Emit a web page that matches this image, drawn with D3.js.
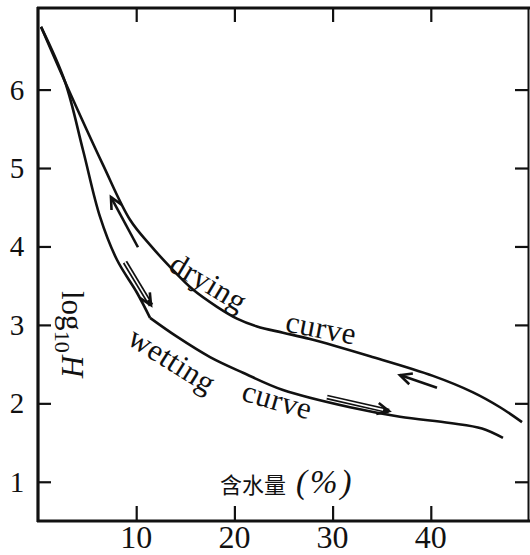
<!DOCTYPE html>
<html>
<head>
<meta charset="utf-8">
<script src="https://cdn.jsdelivr.net/npm/d3@7"></script>
<style>
  body { margin: 0; background: #fff; }
  text { font-family: "Liberation Serif", "DejaVu Serif", serif; fill: #111; }
</style>
</head>
<body>
<div id="chart"></div>
<script>
// Data: water content (%) vs log10 H
var dryingX = [0.31, 2.75, 6.62, 9.37, 11.41, 13.44, 15.78, 18.23, 20.26, 22.30, 24.95, 27.70, 33.81, 40.22, 44.30, 47.05, 49.29];
var dryingY = [6.80, 6.10, 5.04, 4.34, 4.02, 3.74, 3.45, 3.23, 3.08, 2.98, 2.90, 2.82, 2.60, 2.35, 2.14, 1.95, 1.76];

// wetting curve, split at the knee near 11.4 %
var wettingX1 = [0.31, 2.75, 4.58, 6.31, 8.04, 10.08, 11.41];
var wettingY1 = [6.80, 6.10, 5.23, 4.38, 3.83, 3.41, 3.09];
var wettingX2 = [11.41, 14.15, 17.52, 20.88, 24.95, 31.77, 36.86, 41.96, 45.21, 47.35];
var wettingY2 = [3.09, 2.85, 2.59, 2.39, 2.17, 1.95, 1.83, 1.75, 1.68, 1.56];

var xTicks = [10, 20, 30, 40];
var yTicks = [1, 2, 3, 4, 5, 6];

// direction arrows: [x0, y0, x1, y1], head at (x1, y1)
var dryingArrows = [[10.18, 3.99, 7.43, 4.63], [40.63, 2.20, 36.86, 2.36]];
var wettingArrows = [[8.86, 3.80, 11.51, 3.25], [29.43, 2.08, 35.74, 1.90]];

// curve names: [text, x, y, angle]
var curveLabels = [
  ["drying", 17.31, 3.53, 31],
  ["curve", 28.82, 2.95, 11],
  ["wetting", 13.60, 2.54, 32],
  ["curve", 24.34, 2.03, 16]
];

var width = 530, height = 555;

var svg = d3.select("#chart").append("svg")
  .attr("width", width)
  .attr("height", height);

var x = d3.scaleLinear().domain([0, 50]).range([38, 529]);
var y = d3.scaleLinear().domain([0.5, 7.04]).range([521, 8]);

// frame
svg.append("line").attr("x1", 37).attr("x2", 530).attr("y1", y(7.04)).attr("y2", y(7.04))
  .attr("stroke", "#111").attr("stroke-width", 3);
svg.append("line").attr("x1", x(0)).attr("x2", x(0)).attr("y1", 7).attr("y2", 522)
  .attr("stroke", "#111").attr("stroke-width", 3.2);
svg.append("line").attr("x1", 37).attr("x2", 530).attr("y1", y(0.5)).attr("y2", y(0.5))
  .attr("stroke", "#111").attr("stroke-width", 3);
svg.append("line").attr("x1", x(50) - 0.5).attr("x2", x(50) - 0.5).attr("y1", 7).attr("y2", 522)
  .attr("stroke", "#111").attr("stroke-width", 2);

// axes with inward ticks
var bottomAxis = d3.axisTop(x).tickValues(xTicks).tickSize(15).tickFormat("");
var topAxis = d3.axisBottom(x).tickValues(xTicks).tickSize(14).tickFormat("");
var leftAxis = d3.axisRight(y).tickValues(yTicks).tickSize(13).tickFormat("");
var rightAxis = d3.axisLeft(y).tickValues(yTicks).tickSize(14).tickFormat("");

function styleAxis(g) {
  g.select(".domain").remove();
  g.selectAll(".tick line").attr("stroke", "#111").attr("stroke-width", 2.2);
}
svg.append("g").attr("transform", "translate(0," + y(0.5) + ")").call(bottomAxis).call(styleAxis);
svg.append("g").attr("transform", "translate(0," + y(7.04) + ")").call(topAxis).call(styleAxis);
svg.append("g").attr("transform", "translate(" + x(0) + ",0)").call(leftAxis).call(styleAxis);
svg.append("g").attr("transform", "translate(" + x(50) + ",0)").call(rightAxis).call(styleAxis);

// tick labels
svg.selectAll(".xlab").data(xTicks).enter().append("text")
  .attr("class", "xlab")
  .attr("x", function(d) { return x(d); })
  .attr("y", 548)
  .attr("text-anchor", "middle")
  .attr("font-size", 32)
  .text(function(d) { return d; });

svg.selectAll(".ylab").data(yTicks).enter().append("text")
  .attr("class", "ylab")
  .attr("x", 17)
  .attr("y", function(d) { return y(d) + 10; })
  .attr("text-anchor", "middle")
  .attr("font-size", 29)
  .text(function(d) { return d; });

// curves
var line = d3.line()
  .x(function(d) { return x(d[0]); })
  .y(function(d) { return y(d[1]); })
  .curve(d3.curveCatmullRom.alpha(0.5));

function pairs(xs, ys) {
  return xs.map(function(v, i) { return [v, ys[i]]; });
}

[pairs(dryingX, dryingY), pairs(wettingX1, wettingY1), pairs(wettingX2, wettingY2)]
  .forEach(function(data) {
    svg.append("path").datum(data)
      .attr("d", line)
      .attr("fill", "none")
      .attr("stroke", "#111")
      .attr("stroke-width", 2.6)
      .attr("stroke-linejoin", "round");
  });

// arrows
function drawArrow(a, hollow) {
  var x0 = x(a[0]), y0 = y(a[1]), x1 = x(a[2]), y1 = y(a[3]);
  var ang = Math.atan2(y1 - y0, x1 - x0);
  var g = svg.append("g");
  g.append("line").attr("x1", x0).attr("y1", y0).attr("x2", x1).attr("y2", y1)
    .attr("stroke", "#111").attr("stroke-width", hollow ? 5 : 2.6);
  if (hollow) {
    g.append("line").attr("x1", x0).attr("y1", y0)
      .attr("x2", x1 - 6 * Math.cos(ang)).attr("y2", y1 - 6 * Math.sin(ang))
      .attr("stroke", "#fff").attr("stroke-width", 1.6);
  }
  var len = 13, spread = 0.45;
  var p = [
    [x1 - len * Math.cos(ang - spread), y1 - len * Math.sin(ang - spread)],
    [x1, y1],
    [x1 - len * Math.cos(ang + spread), y1 - len * Math.sin(ang + spread)]
  ];
  g.append("path").attr("d", d3.line()(p))
    .attr("fill", "none").attr("stroke", "#111").attr("stroke-width", 2.6)
    .attr("stroke-linejoin", "miter");
}
dryingArrows.forEach(function(a) { drawArrow(a, false); });
wettingArrows.forEach(function(a) { drawArrow(a, true); });

// curve names
svg.selectAll(".clab").data(curveLabels).enter().append("text")
  .attr("class", "clab")
  .attr("transform", function(d) {
    return "translate(" + x(d[1]) + "," + y(d[2]) + ") rotate(" + d[3] + ")";
  })
  .attr("text-anchor", "middle")
  .attr("dy", "0.3em")
  .attr("font-size", 31)
  .attr("letter-spacing", 0.5)
  .text(function(d) { return d[0]; });

// y axis title: log10 H, reading downward
var ytitle = svg.append("text")
  .attr("transform", "translate(62,291) rotate(90)")
  .attr("font-size", 31);
ytitle.append("tspan").text("log");
ytitle.append("tspan").attr("dy", 7).attr("font-size", 22).text("10");
ytitle.append("tspan").attr("dy", -7).attr("font-style", "italic").attr("dx", 2).text("H");

// x axis title
var xtitle = svg.append("text")
  .attr("x", 220)
  .attr("y", 493);
xtitle.append("tspan")
  .attr("font-family", "'Noto Sans CJK SC', 'Noto Sans CJK JP', sans-serif")
  .attr("font-size", 22)
  .text("含水量");
xtitle.append("tspan")
  .attr("dx", 10)
  .attr("font-size", 33)
  .attr("font-style", "italic")
  .attr("letter-spacing", 3)
  .text("(%)");
</script>
</body>
</html>
